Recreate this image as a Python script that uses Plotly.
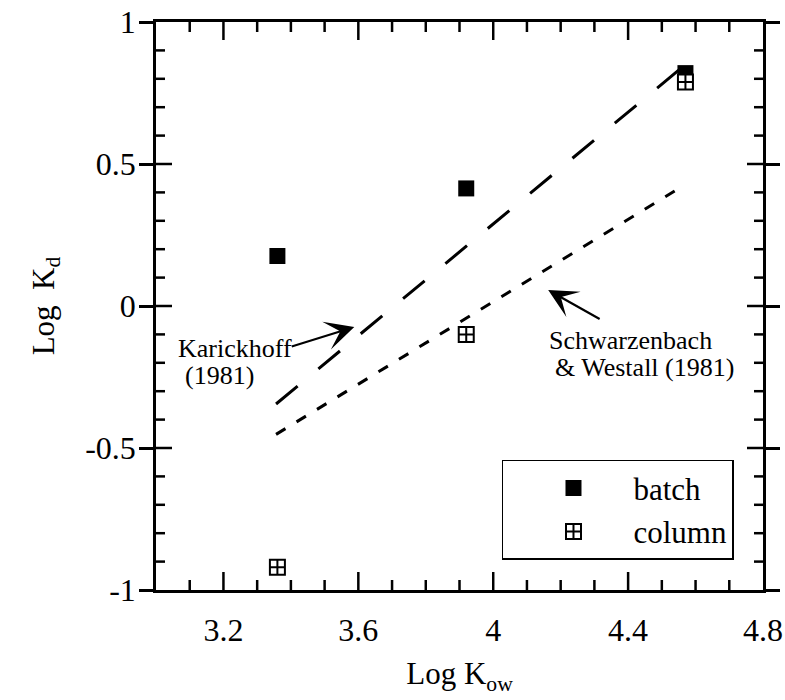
import plotly.graph_objects as go

# Compounds: log Kow and measured log Kd
log_kow = [3.36, 3.92, 4.57]
batch_kd = [0.176, 0.414, 0.820]
column_kd = [-0.920, -0.100, 0.789]

# Predicted log Kd lines (endpoints over the measured log Kow span)
karickhoff_x = [3.356, 4.57]
karickhoff_y = [-0.345, 0.85]
schwarz_x = [3.356, 4.57]
schwarz_y = [-0.452, 0.428]

x_range = [3.0, 4.8]
y_range = [-1.0, 1.0]
x_major = [3.2, 3.6, 4.0, 4.4]
y_tickvals = [-1, -0.5, 0, 0.5, 1]
y_ticktext = ["-1", "-0.5", "0", "0.5", "1"]

FONT = "Liberation Serif"
W, H = 785, 700
M = dict(l=156, r=22, t=22, b=110)
plot_w = W - M["l"] - M["r"]
plot_h = H - M["t"] - M["b"]
# pixel -> data-unit conversion for the frame tick marks
px_x = (x_range[1] - x_range[0]) / plot_w
px_y = (y_range[1] - y_range[0]) / plot_h

# inward tick marks on all four sides of the frame
tx, ty = [], []
x_minor = [round(x_range[0] + 0.1 * i, 1) for i in range(1, 18)]
for v in x_minor:
    ln = (18 if v in x_major else 10) * px_y
    for edge, sgn in ((y_range[0], 1), (y_range[1], -1)):
        tx += [v, v, None]
        ty += [edge, edge + sgn * ln, None]
y_minor = [round(y_range[0] + 0.1 * i, 1) for i in range(1, 20)]
for v in y_minor:
    ln = (16 if v in y_tickvals else 9) * px_x
    for edge, sgn in ((x_range[0], 1), (x_range[1], -1)):
        tx += [edge, edge + sgn * ln, None]
        ty += [v, v, None]

fig = go.Figure()

fig.add_trace(go.Scatter(
    x=tx, y=ty, mode="lines", showlegend=False, hoverinfo="skip",
    line=dict(color="black", width=2.5)))

fig.add_trace(go.Scatter(
    x=karickhoff_x, y=karickhoff_y, mode="lines", showlegend=False,
    line=dict(color="black", width=3, dash="28px,27px"), hoverinfo="skip"))
fig.add_trace(go.Scatter(
    x=schwarz_x, y=schwarz_y, mode="lines", showlegend=False,
    line=dict(color="black", width=3, dash="11px,13px"), hoverinfo="skip"))

fig.add_trace(go.Scatter(
    x=log_kow, y=batch_kd, mode="markers", name="batch",
    marker=dict(symbol="square", size=16, color="black",
                line=dict(color="black", width=0))))
fig.add_trace(go.Scatter(
    x=log_kow, y=column_kd, mode="markers", name="column",
    marker=dict(symbol="square-cross", size=15, color="white",
                line=dict(color="black", width=2))))

arrow = dict(showarrow=True, arrowhead=3, arrowsize=2.2, arrowwidth=2.2,
             arrowcolor="black", axref="x", ayref="y", text="")
txt = dict(showarrow=False, xanchor="left", yanchor="middle",
           font=dict(family=FONT, size=26, color="black"))

annotations = [
    dict(x=3.588, y=-0.074, ax=3.398, ay=-0.144, **arrow),
    dict(x=4.163, y=0.056, ax=4.320, ay=-0.049, **arrow),
    dict(x=3.059, y=-0.151, text="Karickhoff", **txt),
    dict(x=3.080, y=-0.246, text="(1981)", **txt),
    dict(x=4.160, y=-0.123, text="Schwarzenbach", **txt),
    dict(x=4.178, y=-0.218, text="&amp; Westall (1981)", **txt),
]

fig.update_layout(
    width=W, height=H,
    margin=dict(**M, autoexpand=False),
    paper_bgcolor="white", plot_bgcolor="white",
    font=dict(family=FONT, color="black"),
    annotations=annotations,
    xaxis=dict(
        range=x_range, tickmode="array", tickvals=x_major + [4.8],
        ticks="", showline=True, linecolor="black", linewidth=2.5, mirror=True,
        showgrid=False, zeroline=False, automargin=False,
        tickfont=dict(size=32), ticklabelstandoff=10,
        title=dict(text="Log K<sub>ow</sub>", font=dict(size=31), standoff=16),
    ),
    yaxis=dict(
        range=y_range, tickmode="array", tickvals=y_tickvals, ticktext=y_ticktext,
        ticks="outside", ticklen=14, tickwidth=2.5, tickcolor="black",
        showline=True, linecolor="black", linewidth=2.5, mirror="ticks",
        showgrid=False, zeroline=False, automargin=False,
        tickfont=dict(size=32), ticklabelstandoff=-3,
        title=dict(text="Log&nbsp; K<sub>d</sub>", font=dict(size=31), standoff=22),
    ),
    legend=dict(
        x=0.570, y=0.229, xanchor="left", yanchor="top",
        bgcolor="white", bordercolor="black", borderwidth=1.5,
        font=dict(family=FONT, size=31, color="black"),
        itemwidth=110, indentation=10,
    ),
    showlegend=True,
)

fig.write_html("out.html")
